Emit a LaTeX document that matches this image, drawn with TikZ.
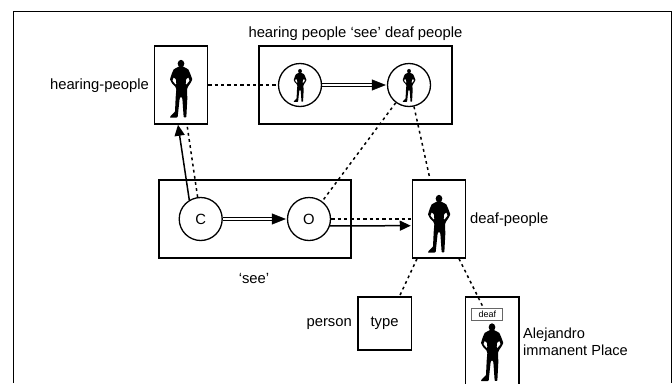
\documentclass[tikz,border=0pt]{standalone}
\usepackage{fontspec}
\setmainfont{Liberation Sans}
\usetikzlibrary{arrows.meta,calc}
\newcommand{\personfig}[3]{%
  \begin{scope}[shift={(#1,#2)},x=#3pt,y=-#3pt]
    \fill (0,11) ellipse (10 and 11.5);
    \fill[even odd rule,rounded corners=1.5*#3pt]
      (-5,19) -- (-22,28) -- (-28,42) -- (-33,58) -- (-27,70) -- (-17,80) -- (-14,88)
      -- (-16,112) -- (-18,155) -- (-32,169) -- (-33,173) -- (-14,173) -- (-10,171)
      -- (-4,115) -- (0,110) -- (4,115) -- (8,172) -- (16,172) -- (19,115) -- (18,88)
      -- (21,80) -- (28,70) -- (34,58) -- (28,42) -- (22,28) -- (5,19) -- cycle
      (-22,52) -- (-26,62) -- (-16,74) -- (-14,72) -- (-15,58) -- cycle
      (22,52) -- (26,62) -- (16,74) -- (14,72) -- (15,58) -- cycle;
  \end{scope}}
\newcommand{\dblarrow}[2]{%
  \draw[rail] ([yshift=1.2pt]#1.east) -- ([yshift=1.2pt,xshift=-12pt]#2.west);
  \draw[rail] ([yshift=-1.2pt]#1.east) -- ([yshift=-1.2pt,xshift=-12pt]#2.west);
  \draw[headtip] ([xshift=-15pt]#2.west) -- ([xshift=-1pt]#2.west);}
\tikzset{
  every node/.style={font=\fontsize{14.8}{17}\selectfont},
  boxnode/.style={draw,line width=1.5pt,minimum width=#1,inner sep=0pt},
  circ/.style={draw,circle,fill=white,line width=1.3pt,minimum size=43pt,inner sep=0pt},
  lbl/.style={inner sep=0pt},
  dashline/.style={line width=1.4pt,dash pattern=on 3.4pt off 3pt},
  dotline/.style={line width=1.5pt,dash pattern=on 2.8pt off 3.4pt},
  solidarrow/.style={line width=1.5pt,-{Triangle[length=11pt,width=10pt]}},
  headtip/.style={line width=.5pt,-{Triangle[length=14pt,width=11pt]}},
  rail/.style={line width=.9pt}
}
\begin{document}
\begin{tikzpicture}[x=1pt,y=-1pt]
\useasboundingbox (0,0) rectangle (672,383);
\clip (0,0) rectangle (672,383);
\draw[line width=1pt] (13.5,383) -- (13.5,11.2) -- (671,11.2) -- (671,383);
% boxes
\node[boxnode=53pt,minimum height=78pt] (hp) at (181,85) {};
\node[boxnode=193pt,minimum height=78pt] (big) at (355.5,85) {};
\node[boxnode=192pt,minimum height=78pt] (see) at (255,219) {};
\node[boxnode=53pt,minimum height=78pt] (deaf) at (439,219) {};
\node[boxnode=53.5pt,minimum height=53pt] (type) at (384.5,323.5) {type};
\node[boxnode=53.5pt,minimum height=120pt] (al) at (492,357) {};
\node[draw=black!60,line width=.8pt,minimum width=31pt,minimum height=12pt,inner sep=0pt,font=\fontsize{9}{10}\selectfont] (deaftag) at (487.3,314) {deaf};
% circles
\node[circ] (tl) at (300,85) {};
\node[circ] (tr) at (409,85) {};
\node[circ] (c) at (200.7,219) {C};
\node[circ] (o) at (309,219) {O};
% figures
\personfig{181}{60}{.3333}
\personfig{439}{195}{.3333}
\personfig{492}{323.5}{.3333}
\personfig{300}{69}{.19}
\personfig{409}{69}{.19}
% connectors
\draw[dashline] (hp.east) -- (tl.west);
\dblarrow{tl}{tr}
\dblarrow{c}{o}
\draw[dotline] (tr) -- (o);
\draw[dotline] (tr.-77) -- ([xshift=-9pt]deaf.north);
\draw[solidarrow] (c.121) -- ([xshift=-3pt]hp.south);
\draw[dotline] (c.98) -- ([xshift=6pt]hp.south);
\draw[dashline] (o.east) -- (deaf.west);
\draw[solidarrow] (o.-18) -- ([yshift=-6.7pt,xshift=-1pt]deaf.west);
\draw[dotline] ([xshift=-22pt]deaf.south) -- ([xshift=15pt]type.north);
\draw[dotline] ([xshift=20pt]deaf.south) -- ([xshift=-4pt]deaftag.north);
% labels
\node[lbl,anchor=east] (lhp) at (149,85.5) {hearing-people};
\node[lbl] (ltop) at (355.5,33.5) {hearing people ‘see’ deaf people};
\node[lbl] (lsee) at (254,278) {‘see’};
\node[lbl,anchor=east] (lperson) at (352,324) {person};
\node[lbl,anchor=west] (ldeaf) at (470,220) {deaf-people};
\node[lbl,anchor=west,align=left,font=\fontsize{14.6}{16.8}\selectfont] (lal) at (523,341.5) {Alejandro\\immanent Place};
\end{tikzpicture}
\end{document}
